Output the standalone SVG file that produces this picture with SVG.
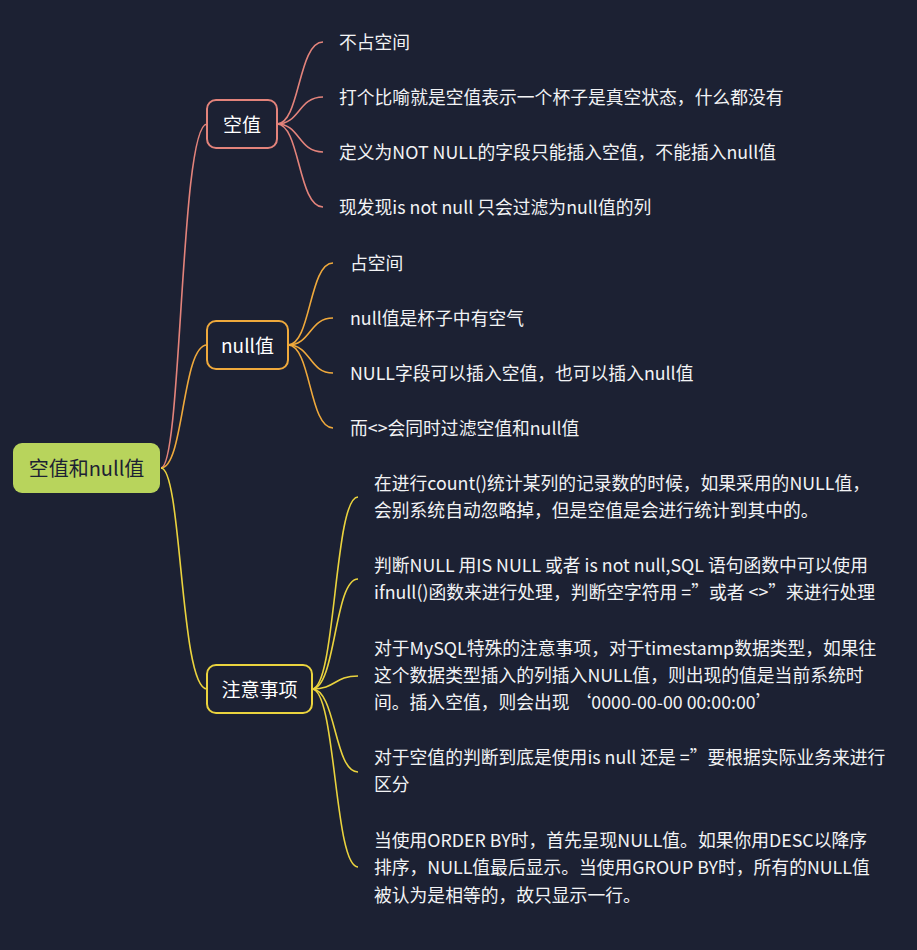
<svg xmlns="http://www.w3.org/2000/svg" width="917" height="950" viewBox="0 0 917 950">
<style>
.bg{fill:#1c2133}
.t{font-family:"Noto Sans CJK SC","Noto Sans",sans-serif;font-size:17.8px;fill:#f2f3f5;dominant-baseline:central}
.nt{font-family:"Noto Sans CJK SC","Noto Sans",sans-serif;font-size:19px;fill:#ffffff;dominant-baseline:central;text-anchor:middle}
.rt{font-family:"Noto Sans CJK SC","Noto Sans",sans-serif;font-size:20px;fill:#1c2133;dominant-baseline:central;text-anchor:middle}
.c{fill:none;stroke-width:1.6}
.s{stroke:#e3837b}
.o{stroke:#efa93c}
.y{stroke:#ead33e}
.box{fill:#1c2133;stroke-width:2}
</style>
<rect class="bg" x="0" y="0" width="917" height="950"/>
<g id="connectors">
<path class="c s" d="M161,468 C182,468 180,124 207,124"/>
<path class="c o" d="M161,468 C184,468 182,345 207,345"/>
<path class="c y" d="M161,468 C182,468 180,689 207,689"/>
<path class="c s" d="M277,124 C300,124 298,42 323,42"/>
<path class="c s" d="M277,124 C300,124 298,97 323,97"/>
<path class="c s" d="M277,124 C300,124 298,152 323,152"/>
<path class="c s" d="M277,124 C300,124 298,207 323,207"/>
<path class="c o" d="M288,345 C311,345 309,263 333,263"/>
<path class="c o" d="M288,345 C311,345 309,318 333,318"/>
<path class="c o" d="M288,345 C311,345 309,373 333,373"/>
<path class="c o" d="M288,345 C311,345 309,428 333,428"/>
<path class="c y" d="M312,689 C336,689 334,497 358,497"/>
<path class="c y" d="M312,689 C336,689 334,579 358,579"/>
<path class="c y" d="M312,689 C336,689 334,676 358,676"/>
<path class="c y" d="M312,689 C336,689 334,772 358,772"/>
<path class="c y" d="M312,689 C336,689 334,867 358,867"/>
</g>
<g id="root">
<rect x="13" y="443" width="147" height="50" rx="9" fill="#b8d45c"/>
<text class="rt" x="86.5" y="467">空值和null值</text>
</g>
<g id="n-empty">
<rect class="box s" x="207" y="100" width="70" height="48" rx="9"/>
<text class="nt" x="242" y="123">空值</text>
</g>
<g id="n-null">
<rect class="box o" x="207" y="321" width="81" height="48" rx="9"/>
<text class="nt" x="247.5" y="344">null值</text>
</g>
<g id="n-notes">
<rect class="box y" x="207" y="665" width="105" height="48" rx="9"/>
<text class="nt" x="259.5" y="688">注意事项</text>
</g>
<g id="leaf-empty">
<text class="t" x="339" y="40.5">不占空间</text>
<text class="t" x="339" y="95.5">打个比喻就是空值表示一个杯子是真空状态，什么都没有</text>
<text class="t" x="339" y="150.5">定义为NOT NULL的字段只能插入空值，不能插入null值</text>
<text class="t" x="339" y="205.5">现发现is not null 只会过滤为null值的列</text>
</g>
<g id="leaf-null">
<text class="t" x="350" y="261.5">占空间</text>
<text class="t" x="350" y="316.5">null值是杯子中有空气</text>
<text class="t" x="350" y="371.5">NULL字段可以插入空值，也可以插入null值</text>
<text class="t" x="350" y="426.5">而&lt;&gt;会同时过滤空值和null值</text>
</g>
<g id="leaf-notes">
<text class="t" x="374" y="481.5">在进行count()统计某列的记录数的时候，如果采用的NULL值，</text>
<text class="t" x="374" y="508.5">会别系统自动忽略掉，但是空值是会进行统计到其中的。</text>
<text class="t" x="374" y="563.5">判断NULL 用IS NULL 或者 is not null,SQL 语句函数中可以使用</text>
<text class="t" x="374" y="590.5">ifnull()函数来进行处理，判断空字符用 =”或者 &lt;&gt;”来进行处理</text>
<text class="t" x="374" y="646.5">对于MySQL特殊的注意事项，对于timestamp数据类型，如果往</text>
<text class="t" x="374" y="673.5">这个数据类型插入的列插入NULL值，则出现的值是当前系统时</text>
<text class="t" x="374" y="700.5">间。插入空值，则会出现 ‘0000-00-00 00:00:00’</text>
<text class="t" x="374" y="755.5">对于空值的判断到底是使用is null 还是 =”要根据实际业务来进行</text>
<text class="t" x="374" y="782.5">区分</text>
<text class="t" x="374" y="838.5">当使用ORDER BY时，首先呈现NULL值。如果你用DESC以降序</text>
<text class="t" x="374" y="865.5">排序，NULL值最后显示。当使用GROUP BY时，所有的NULL值</text>
<text class="t" x="374" y="893.5">被认为是相等的，故只显示一行。</text>
</g>
</svg>
